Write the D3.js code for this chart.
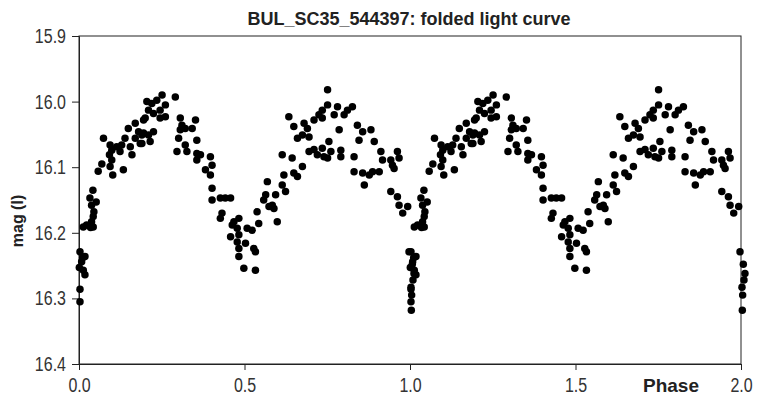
<!DOCTYPE html>
<html><head><meta charset="utf-8">
<script src="https://cdn.jsdelivr.net/npm/d3@7"></script>
<style>body{margin:0;background:#fff;}svg{display:block;}</style>
</head><body>
<script>
// Phase (first fold) and I magnitude; the plot repeats the fold one cycle later
const phase = [0.003,0.003,0.018,0.013,0.001,0.008,0.018,0.003,0.011,0.013,0.023,0.035,0.043,0.038,0.043,0.045,0.038,0.052,0.033,0.042,0.058,0.069,0.074,0.094,0.099,0.092,0.099,0.094,0.102,0.114,0.124,0.129,0.134,0.139,0.149,0.155,0.160,0.170,0.170,0.180,0.185,0.190,0.195,
0.205,0.220,0.235,0.251,0.291,0.210,0.200,0.225,0.245,0.261,0.261,0.245,0.195,0.210,0.225,0.215,0.190,0.306,0.311,0.306,0.321,0.342,0.352,0.301,0.321,0.296,0.326,0.356,0.356,0.367,0.356,0.382,0.397,0.402,0.397,0.402,0.402,
0.427,0.442,0.458,0.432,0.427,0.468,0.483,0.463,0.478,0.458,0.483,0.478,0.483,0.483,0.503,0.508,0.523,0.528,0.533,0.498,0.533,0.543,0.538,0.558,0.564,0.569,0.574,0.584,0.594,0.589,0.599,0.614,0.619,0.614,0.624,
0.644,0.649,0.660,0.675,0.634,0.649,0.660,0.675,0.680,0.690,0.695,0.695,0.710,0.725,0.735,0.751,0.751,0.755,0.720,0.735,0.740,0.761,0.771,0.781,0.786,0.791,0.791,0.801,0.811,0.826,0.831,0.831,0.710,0.751,0.735,
0.841,0.857,0.846,0.882,0.892,0.857,0.862,0.877,0.887,0.907,0.912,0.917,0.942,0.947,0.952,0.962,0.967,0.942,0.962,0.967,0.993,0.978,
0.997,1.004,1.009,1.012,1.007,1.005,1.003];
const mag = [16.305,16.286,16.264,16.257,16.253,16.244,16.236,16.229,16.238,16.191,16.188,16.192,16.191,16.183,16.175,16.168,16.158,16.153,16.147,16.135,16.106,16.095,16.056,16.066,16.074,16.081,16.089,16.099,16.112,16.069,16.076,16.066,16.104,16.056,16.041,16.069,16.081,16.033,16.056,16.046,16.064,16.051,16.028,
16.000,16.003,15.998,15.990,15.993,16.013,16.025,16.018,16.013,16.005,16.023,16.025,16.048,16.051,16.046,16.061,16.064,16.025,16.036,16.043,16.041,16.041,16.028,16.056,16.066,16.076,16.076,16.059,16.079,16.081,16.089,16.104,16.084,16.097,16.112,16.132,16.150,
16.147,16.147,16.147,16.170,16.178,16.183,16.178,16.188,16.193,16.206,16.203,16.214,16.224,16.236,16.216,16.193,16.196,16.224,16.229,16.254,16.257,16.186,16.168,16.150,16.142,16.122,16.160,16.158,16.142,16.163,16.183,16.127,16.112,16.081,16.137,
16.086,16.109,16.114,16.099,16.023,16.038,16.056,16.051,16.033,16.041,16.054,16.076,16.028,16.020,16.013,15.982,16.005,16.061,16.081,16.071,16.084,16.076,16.020,16.008,16.043,16.074,16.084,16.020,16.013,16.008,16.084,16.107,16.073,16.086,16.025,
16.036,16.046,16.059,16.043,16.061,16.109,16.127,16.112,16.107,16.107,16.076,16.089,16.089,16.097,16.102,16.076,16.086,16.137,16.145,16.158,16.160,16.170,
16.229,16.318,16.272,16.262,16.248,16.295,16.283];
const cycles = [0, 1];
const xTicks = [0.0, 0.5, 1.0, 1.5, 2.0];
const yTicks = [15.9, 16.0, 16.1, 16.2, 16.3, 16.4];
const title = "BUL_SC35_544397: folded light curve";

const W = 766, H = 406;
const m = {left: 79, right: 25, top: 36, bottom: 42};
const svg = d3.select("body").append("svg").attr("width", W).attr("height", H);

const x = d3.scaleLinear().domain([0, 2]).range([m.left, W - m.right]);
const y = d3.scaleLinear().domain([15.9, 16.4]).range([m.top, H - m.bottom]);

// frame
svg.append("rect").attr("x", x(0)).attr("y", y(15.9))
  .attr("width", x(2) - x(0)).attr("height", y(16.4) - y(15.9))
  .attr("fill", "none").attr("stroke", "#222").attr("stroke-width", 1);

const xAxis = svg.append("g").attr("transform", `translate(0,${y(16.4)})`)
  .call(d3.axisBottom(x).tickValues(xTicks).tickFormat(d3.format(".1f")).tickSizeOuter(0).tickSize(6).tickPadding(8));
const yAxis = svg.append("g").attr("transform", `translate(${x(0)},0)`)
  .call(d3.axisLeft(y).tickValues(yTicks).tickFormat(d3.format(".1f")).tickSizeOuter(0).tickSize(7).tickPadding(6));
[xAxis, yAxis].forEach(g => {
  g.select(".domain").attr("stroke", "#222");
  g.selectAll(".tick line").attr("stroke", "#222");
  g.selectAll(".tick text").attr("font-family", "Liberation Sans, Arial, sans-serif")
    .attr("font-size", 20).attr("fill", "#333")
    .each(function() {
      // condensed (narrow) look of the original tick labels
      const len = this.getComputedTextLength();
      d3.select(this).attr("textLength", len * 0.8).attr("lengthAdjust", "spacingAndGlyphs");
    });
});

const pts = [];
cycles.forEach(c => phase.forEach((p, i) => pts.push({p: p + c, m: mag[i]})));
svg.append("g").selectAll("path").data(pts).join("path")
  .attr("transform", d => `translate(${x(d.p)},${y(d.m)})`)
  .attr("d", d3.symbol(d3.symbolCircle, 44))
  .attr("fill", "#000");

svg.append("text").attr("x", 409).attr("y", 25).attr("text-anchor", "middle")
  .attr("font-family", "Liberation Sans, Arial, sans-serif").attr("font-weight", "bold")
  .attr("font-size", 18).attr("fill", "#222").text(title);

svg.append("text").attr("transform", "translate(23,221) rotate(-90)").attr("text-anchor", "middle")
  .attr("font-family", "Liberation Sans, Arial, sans-serif").attr("font-weight", "bold")
  .attr("font-size", 16).attr("fill", "#222").text("mag (I)");

svg.append("text").attr("x", 671).attr("y", 392).attr("text-anchor", "middle")
  .attr("font-family", "Liberation Sans, Arial, sans-serif").attr("font-weight", "bold")
  .attr("font-size", 19).attr("fill", "#222").text("Phase");
</script>
</body></html>
